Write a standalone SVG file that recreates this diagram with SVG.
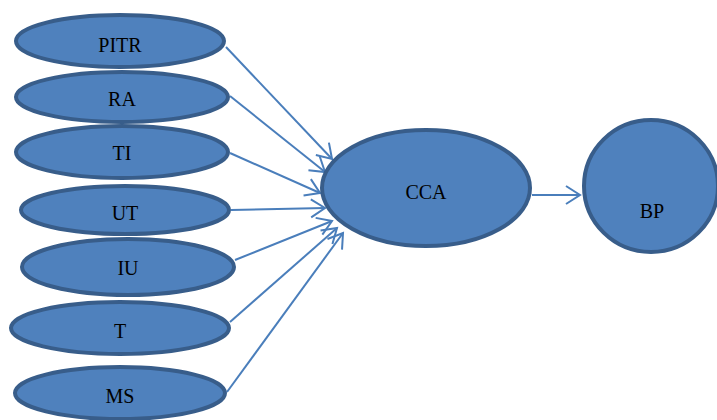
<svg xmlns="http://www.w3.org/2000/svg" width="717" height="420" viewBox="0 0 717 420">
<style>
.n ellipse{fill:#4F81BD;stroke:#385D8A;stroke-width:4}
.n text{font-family:"Liberation Serif",serif;font-size:20px;fill:#000;text-anchor:middle}
#edges line{stroke:#4A7EBB;stroke-width:2;fill:none;marker-end:url(#arr)}
</style>
<defs>
<marker id="arr" markerUnits="userSpaceOnUse" markerWidth="24" markerHeight="24" viewBox="0 0 24 24" refX="21" refY="12" orient="auto">
<path d="M7,3 L21,12 L7,21" fill="none" stroke="#4A7EBB" stroke-width="2"/>
</marker>
</defs>
<rect width="717" height="420" fill="#fff"/>
<g id="edges">
<line x1="226" y1="47" x2="332" y2="159"/>
<line x1="230" y1="96" x2="325" y2="172"/>
<line x1="230" y1="153" x2="320" y2="193"/>
<line x1="231" y1="210" x2="325" y2="208"/>
<line x1="235" y1="260" x2="332" y2="221"/>
<line x1="230" y1="322" x2="337" y2="228"/>
<line x1="227" y1="392" x2="343" y2="233"/>
<line x1="532" y1="195" x2="580" y2="195"/>
</g>
<g id="PITR" class="n"><ellipse cx="120" cy="41" rx="104" ry="26"/><text x="120" y="52">PITR</text></g>
<g id="RA" class="n"><ellipse cx="122" cy="97" rx="106" ry="25"/><text x="122" y="106">RA</text></g>
<g id="TI" class="n"><ellipse cx="122" cy="152" rx="106" ry="26"/><text x="122" y="160">TI</text></g>
<g id="UT" class="n"><ellipse cx="125" cy="210" rx="104" ry="24"/><text x="125" y="220">UT</text></g>
<g id="IU" class="n"><ellipse cx="128" cy="267" rx="106" ry="28"/><text x="128" y="275">IU</text></g>
<g id="T" class="n"><ellipse cx="120" cy="328" rx="109" ry="26"/><text x="120" y="338">T</text></g>
<g id="MS" class="n"><ellipse cx="120" cy="393" rx="105" ry="26"/><text x="120" y="403">MS</text></g>
<g id="CCA" class="n"><ellipse cx="426" cy="188" rx="104" ry="58"/><text x="426" y="199">CCA</text></g>
<g id="BP" class="n"><ellipse cx="651" cy="186" rx="67" ry="66"/><text x="652" y="218">BP</text></g>
</svg>
